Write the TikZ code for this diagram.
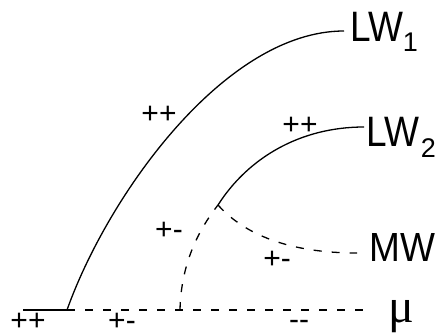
\documentclass[tikz,border=0pt]{standalone}
\usepackage{fontspec}
\setmainfont{Liberation Sans}
\newfontfamily\mufont{Liberation Serif}
\begin{document}
\begin{tikzpicture}[x=1pt,y=-1pt,
  curve/.style={line width=1.3pt},
  dcurve/.style={line width=1.3pt,dash pattern=on 8pt off 10pt},
  big/.style={inner sep=0pt,font=\fontsize{37}{37}\selectfont},
  lab/.style={inner sep=0pt,font=\fontsize{30}{30}\selectfont}]
\useasboundingbox (0,0) rectangle (435,336);
% labels
\node[big,anchor=base west] (lw1) at (350,42) {\scalebox{1}[1.15]{LW}\raisebox{-10pt}{\fontsize{27}{27}\selectfont 1}};
\node[big,anchor=base west] (lw2) at (366,147) {\scalebox{1}[1.15]{LW}\hspace{2pt}\raisebox{-11pt}{\fontsize{27}{27}\selectfont 2}};
\node[big,anchor=base west] (mw) at (369,261) {\scalebox{1}[1.1]{MW}};
\node[inner sep=0pt,anchor=base west,font=\fontsize{48}{48}\selectfont\mufont] (mu) at (388,322) {μ};
% points
\coordinate (s0) at (23,310);
\coordinate (s1) at (67,310);
\coordinate (s2) at (180,310);
\coordinate (s3) at (363,310);
\coordinate (e1) at (344,31);
\coordinate (j) at (218,205);
\coordinate (e2) at (364,127);
\coordinate (e3) at (357,253);
% baseline
\draw[curve] (s0) -- (s1);
\draw[dcurve] (s1) -- (s3);
% LW1
\draw[curve] (s1) .. controls (108,195) and (225,31) .. (e1);
% LW2
\draw[dcurve] (s2) .. controls (181,262) and (200,228) .. (j);
\draw[curve] (j) .. controls (248,158) and (300,127) .. (e2);
% MW
\draw[dcurve] (j) .. controls (245,235) and (290,253) .. (e3);
% sign labels
\node[lab,text depth=0pt,text height=14pt] (a1) at (28,323) {++};
\node[lab,text depth=0pt,text height=14pt] (a2) at (122,323) {+-};
\node[lab] (a3) at (299,325) {-{}-};
\node[lab] (a4) at (159,115) {++};
\node[lab] (a5) at (300,126) {++};
\node[lab] (a6) at (169,231) {+-};
\node[lab] (a7) at (277,260) {+-};
\end{tikzpicture}
\end{document}
